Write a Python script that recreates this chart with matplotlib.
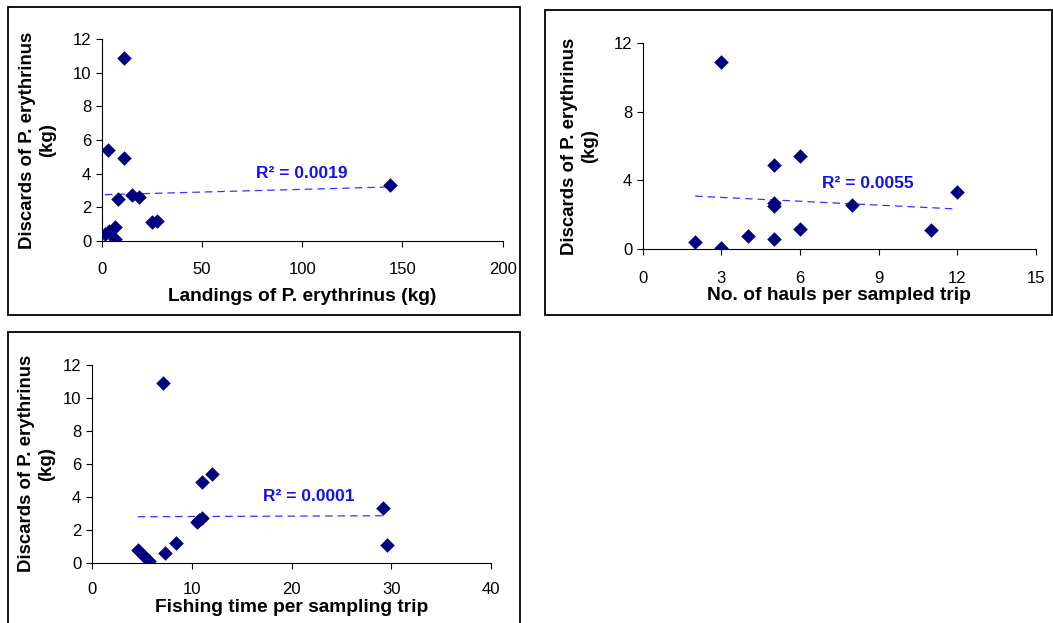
import numpy as np
import matplotlib
matplotlib.use("Agg")
import matplotlib.pyplot as plt
from matplotlib.patches import Rectangle

plt.rcParams['font.family'] = ['Liberation Sans', 'DejaVu Sans']

# Discards of P. erythrinus (kg), one value per sampled trip
discards = [10.9, 5.4, 4.9, 2.7, 2.5, 2.6, 3.3, 1.1, 1.2, 0.8, 0.6, 0.4, 0.1]
# Landings of P. erythrinus (kg)
landings = [11.1, 3.3, 11.0, 15.0, 8.3, 18.5, 144.0, 25.0, 27.4, 6.6, 3.6, 1.6, 6.6]
# No. of hauls per sampled trip
hauls = [3, 6, 5, 5, 5, 8, 12, 11, 6, 4, 5, 2, 3]
# Fishing time per sampling trip
fishing_time = [7.1, 12.0, 11.0, 11.0, 10.5, 10.7, 29.2, 29.6, 8.4, 4.6, 7.3, 5.2, 5.7]

r2_labels = ["R\u00b2 = 0.0019", "R\u00b2 = 0.0055", "R\u00b2 = 0.0001"]
xlabels = ["Landings of P. erythrinus (kg)",
           "No. of hauls per sampled trip",
           "Fishing time per sampling trip"]
ylabel = "Discards of P. erythrinus\n(kg)"

W, H = 1053, 623
fig = plt.figure(figsize=(W / 100, H / 100), dpi=100)

def fx(px):
    return px / W

def fy(py):
    return 1 - py / H

def add_axes(x0, x1, ytop, ybot):
    return fig.add_axes([fx(x0), fy(ybot), fx(x1) - fx(x0), fy(ytop) - fy(ybot)])

# panel frames (pixel coords: left, top, right, bottom)
frames = [(7.5, 6.5, 519.5, 315), (545, 9.5, 1052, 315), (7.5, 332, 519.5, 640)]
for (l, t, r, b) in frames:
    fig.add_artist(Rectangle((fx(l), fy(b)), fx(r) - fx(l), fy(t) - fy(b),
                             transform=fig.transFigure, fill=False,
                             edgecolor='black', linewidth=1.3, clip_on=False))

panels = [
    dict(x=landings, pos=(101.7, 502.7, 39.3, 240.7), xlim=(0, 200), xt=np.arange(0, 201, 50),
         yt=np.arange(0, 13, 2), txt=(100, 4.0), tpad=11.5, xlab_pad=8, ylab_x=-0.16),
    dict(x=hauls, pos=(642.7, 1036, 42.7, 249.3), xlim=(0, 15), xt=np.arange(0, 16, 3),
         yt=np.arange(0, 13, 4), txt=(8.6, 3.8), tpad=11.5, xlab_pad=1, ylab_x=-0.16),
    dict(x=fishing_time, pos=(91.7, 491.3, 365, 562.7), xlim=(0, 40), xt=np.arange(0, 41, 10),
         yt=np.arange(0, 13, 2), txt=(21.7, 4.0), tpad=10, xlab_pad=1, ylab_x=-0.137),
]

y = np.array(discards)
for i, p in enumerate(panels):
    ax = add_axes(*p['pos'])
    x = np.array(p['x'], dtype=float)
    ax.scatter(x, y, marker='D', s=55, color='#000080', zorder=3, linewidths=0)
    m, c = np.polyfit(x, y, 1)
    xx = np.array([x.min(), x.max()])
    ax.plot(xx, m * xx + c, color='#3333FF', linestyle=(0, (6, 4)), linewidth=0.9, zorder=2)
    ax.text(p['txt'][0], p['txt'][1], r2_labels[i], color='#1010F0', fontsize=12.5,
            fontweight='bold', ha='center', va='center')
    ax.set_xlim(*p['xlim'])
    ax.set_ylim(0, 12)
    ax.set_xticks(p['xt'])
    ax.set_yticks(p['yt'])
    ax.tick_params(axis='both', labelsize=12, direction='out', length=4, width=0.8, colors='black')
    ax.tick_params(axis='x', pad=p['tpad'])
    for s in ('top', 'right'):
        ax.spines[s].set_visible(False)
    for s in ('left', 'bottom'):
        ax.spines[s].set_linewidth(0.8)
        ax.spines[s].set_color('black')
    ax.set_xlabel(xlabels[i], fontsize=13.8, fontweight='bold', labelpad=p['xlab_pad'])
    ax.set_ylabel(ylabel, fontsize=13.4, fontweight='bold', linespacing=1.25, va='center')
    ax.yaxis.set_label_coords(p['ylab_x'], 0.5)
    ax.patch.set_alpha(0)

fig.savefig("out.png", dpi=100)
